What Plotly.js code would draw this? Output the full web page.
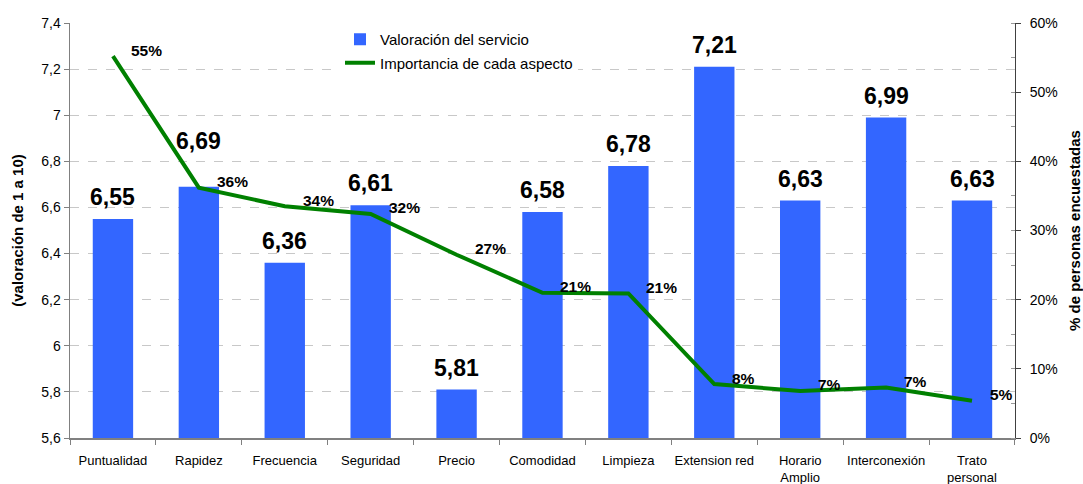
<!DOCTYPE html>
<html>
<head>
<meta charset="utf-8">
<script src="https://cdn.plot.ly/plotly-3.0.1.min.js"></script>
<style>
  html, body { margin: 0; padding: 0; background: #fff; }
  #chart { width: 1083px; height: 484px; }
</style>
</head>
<body>
<div id="chart"></div>
<script>
// Aspects of the service evaluated in the survey
const categories = ['Puntualidad', 'Rapidez', 'Frecuencia', 'Seguridad', 'Precio', 'Comodidad',
  'Limpieza', 'Extension red', 'Horario<br>Amplio', 'Interconexión', 'Trato<br>personal'];

// Average rating of each aspect (scale 1 to 10)
const valoracion = [6.55, 6.69, 6.36, 6.61, 5.81, 6.58, 6.78, 7.21, 6.63, 6.99, 6.63];

// Share of respondents who consider each aspect important (%)
const importancia = [55.2, 36.2, 33.5, 32.4, 26.5, 21.0, 20.9, 7.8, 6.8, 7.3, 5.4];

const fontFamily = 'Liberation Sans, Arial, sans-serif';

// Extra lift (px) for rating labels that would otherwise sit on the line
const labelLift = { 'Rapidez': 24 };

const barTrace = {
  type: 'bar',
  name: 'Valoración del servicio',
  legendgroup: 'bar',
  x: categories,
  y: valoracion,
  marker: { color: '#3366FF' },
  width: 0.47,
  hoverinfo: 'x+y'
};

const lineTrace = {
  type: 'scatter',
  mode: 'lines',
  name: 'Importancia de cada aspecto',
  legendgroup: 'line',
  x: categories,
  y: importancia,
  yaxis: 'y2',
  line: { color: '#008000', width: 4 }
};

// Rating labels above each bar
const barLabels = categories.map((c, i) => ({
  x: c,
  y: valoracion[i],
  xref: 'x',
  yref: 'y',
  text: valoracion[i].toFixed(2).replace('.', ','),
  showarrow: false,
  xanchor: 'center',
  yanchor: 'middle',
  yshift: 22 + (labelLift[c] || 0),
  font: { family: fontFamily, size: 23, color: '#000', weight: 'bold' }
}));

// Percentage labels next to each point of the line
const lineLabels = categories.map((c, i) => ({
  x: c,
  y: importancia[i],
  xref: 'x',
  yref: 'y2',
  text: Math.round(importancia[i]) + '%',
  showarrow: false,
  xanchor: 'left',
  yanchor: 'middle',
  xshift: 16,
  yshift: 6,
  font: { family: fontFamily, size: 15.5, color: '#000', weight: 'bold' }
}));

const layout = {
  width: 1083,
  height: 484,
  margin: { l: 70, r: 68, t: 23, b: 46 },
  paper_bgcolor: '#fff',
  plot_bgcolor: '#fff',
  separators: ',.',
  font: { family: fontFamily, size: 13, color: '#000' },
  showlegend: true,
  legend: {
    x: 0.2857, y: 1.0, xanchor: 'left', yanchor: 'top',
    bgcolor: '#fff',
    traceorder: 'grouped',
    tracegroupgap: 1,
    font: { family: fontFamily, size: 15, color: '#000' }
  },
  xaxis: {
    type: 'category',
    showline: true,
    linecolor: '#808080',
    linewidth: 1.5,
    ticks: 'outside',
    tickson: 'boundaries',
    ticklen: 5,
    tickcolor: '#808080',
    tickangle: 0,
    showgrid: false,
    tickfont: { family: fontFamily, size: 13, color: '#000' },
    ticklabelstandoff: 10
  },
  yaxis: {
    title: { text: '(valoración de 1 a 10)', font: { family: fontFamily, size: 15, weight: 'bold', color: '#000' }, standoff: 14 },
    range: [5.6, 7.4],
    dtick: 0.2,
    tick0: 5.6,
    showline: true,
    linecolor: '#808080',
    linewidth: 1.5,
    ticks: 'outside',
    ticklen: 5,
    tickcolor: '#808080',
    showgrid: true,
    gridcolor: '#c8c8c8',
    griddash: 'dash',
    gridwidth: 1,
    zeroline: false,
    tickfont: { family: fontFamily, size: 14, color: '#000' }
  },
  yaxis2: {
    title: { text: '% de personas encuestadas', font: { family: fontFamily, size: 15, weight: 'bold', color: '#000' }, standoff: 14 },
    overlaying: 'y',
    side: 'right',
    range: [0, 60],
    dtick: 10,
    ticksuffix: '%',
    showline: true,
    linecolor: '#404040',
    linewidth: 1,
    ticks: 'outside',
    ticklen: 5,
    tickcolor: '#404040',
    ticklabelstandoff: 6,
    minor: { dtick: 5, ticks: 'inside', ticklen: 4, tickcolor: '#999', showgrid: false },
    showgrid: false,
    zeroline: false,
    tickfont: { family: fontFamily, size: 14, color: '#000' }
  },
  annotations: barLabels.concat(lineLabels)
};

Plotly.newPlot('chart', [barTrace, lineTrace], layout, { displayModeBar: false, staticPlot: true });
</script>
</body>
</html>
